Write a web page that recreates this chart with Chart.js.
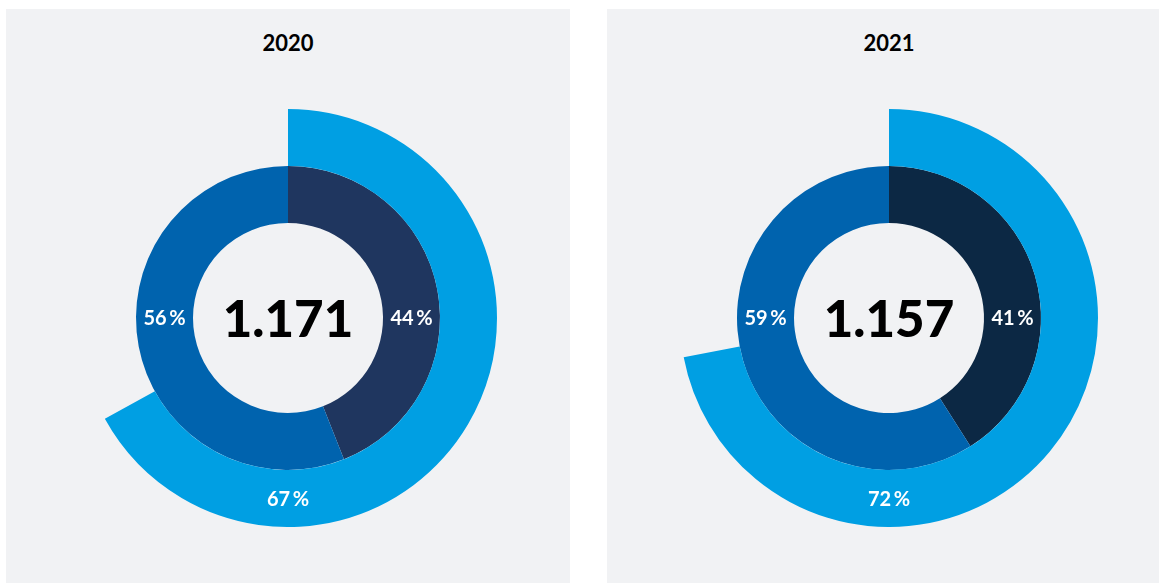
<!DOCTYPE html>
<html>
<head>
<meta charset="utf-8">
<script src="https://cdn.jsdelivr.net/npm/chart.js@4"></script>
<style>
  html, body { margin: 0; padding: 0; background: #fff; }
  body { width: 1160px; height: 583px; position: relative; overflow: hidden; font-family: Lato, 'Noto Sans', sans-serif; }
  .panel { position: absolute; top: 9px; height: 574px; background: #f1f2f4; overflow: hidden; }
  .panel h2 { position: absolute; left: 0; width: 564px; top: 20px; margin: 0; text-align: center;
              font: 700 22px Lato, 'Noto Sans', sans-serif; color: #000; }
  .panel canvas { position: absolute; left: 73px; top: 100px; }
</style>
</head>
<body>
<div class="panel" style="left:6px;width:564px"><h2 id="t0"></h2><canvas id="c0" width="418" height="418"></canvas></div>
<div class="panel" style="left:607px;width:552px"><h2 id="t1"></h2><canvas id="c1" width="418" height="418"></canvas></div>
<script>
'use strict';

// ── Data ──────────────────────────────────────────
var years      = ['2020', '2021'];
var totals     = ['1.171', '1.157'];
var outerShare = [67, 72];   // outer ring, rest left empty
var innerDark  = [44, 41];
var innerMid   = [56, 59];

var COLORS = {
  light: '#009fe3',
  mid:   '#0063ae',
  dark:  ['#1f365f', '#0c2844']
};

// label angle (degrees clockwise from top) for each shown slice, per ring
var labelAngle = { outer: [180], inner: [90, 270] };

var ringLabels = {
  id: 'ringLabels',
  afterDraw: function(chart) {
    var ctx = chart.ctx;
    var area = chart.chartArea;
    var cx = (area.left + area.right) / 2;
    var cy = (area.top + area.bottom) / 2;
    ctx.save();
    ctx.fillStyle = '#fff';
    ctx.font = "700 20px Lato, 'Noto Sans', sans-serif";
    ctx.textAlign = 'center';
    ctx.textBaseline = 'alphabetic';
    chart.data.datasets.forEach(function(ds, di) {
      var arc = chart.getDatasetMeta(di).data[0];
      var r = (arc.innerRadius + arc.outerRadius) / 2;
      var angles = labelAngle[ds.ring];
      angles.forEach(function(deg, i) {
        var a = deg * Math.PI / 180;
        var x = cx + r * Math.sin(a);
        var y = cy - r * Math.cos(a);
        ctx.fillText(ds.data[i] + '\u2009%', x, y + 7);
      });
    });
    ctx.fillStyle = '#000';
    ctx.font = "900 51px Lato, 'Noto Sans', sans-serif";
    ctx.fillText(chart.options.plugins.centerText, cx, cy + 19);
    ctx.restore();
  }
};

function buildDonut(i) {
  document.getElementById('t' + i).textContent = years[i];
  new Chart(document.getElementById('c' + i), {
    type: 'doughnut',
    data: {
      datasets: [
        {
          ring: 'outer',
          data: [outerShare[i], 100 - outerShare[i]],
          backgroundColor: [COLORS.light, 'rgba(0,0,0,0)']
        },
        {
          ring: 'inner',
          data: [innerDark[i], innerMid[i]],
          backgroundColor: [COLORS.dark[i], COLORS.mid]
        }
      ]
    },
    options: {
      responsive: false,
      animation: false,
      cutout: 95,
      borderWidth: 0,
      hoverOffset: 0,
      offset: 0,
      layout: { padding: 0 },
      elements: { arc: { borderWidth: 0 } },
      events: [],
      plugins: { legend: { display: false }, tooltip: { enabled: false }, centerText: totals[i] }
    },
    plugins: [ringLabels]
  });
}

years.forEach(function(y, i) { buildDonut(i); });
</script>
</body>
</html>
